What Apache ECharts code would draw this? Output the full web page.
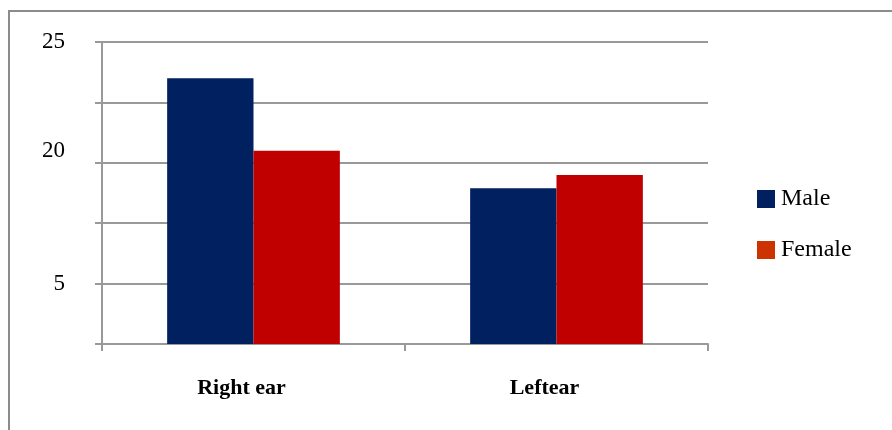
<!DOCTYPE html>
<html>
<head>
<meta charset="utf-8">
<script src="https://cdn.jsdelivr.net/npm/echarts@6/dist/echarts.min.js"></script>
<style>
  html, body { margin: 0; padding: 0; background: #fff; }
  #chart { width: 892px; height: 430px; }
</style>
</head>
<body>
<div id="chart"></div>
<script>
// Hearing results by ear and sex
const categories = ['Right ear', 'Leftear'];
const maleValues = [22.0, 12.9];
const femaleValues = [16.0, 14.0];
const yLabelValues = [5, 16.0, 25];
const yLabelTexts = ['5', '20', '25'];

const chart = echarts.init(document.getElementById('chart'), null, { renderer: 'canvas' });

const serif = '"Liberation Serif", "DejaVu Serif", serif';
const gridGray = '#999999';

chart.setOption({
  animation: false,
  backgroundColor: '#ffffff',
  graphic: [{
    type: 'rect',
    shape: { x: 9, y: 11, width: 1000, height: 500 },
    style: { fill: 'none', stroke: '#8c8c8c', lineWidth: 2 },
    silent: true
  }],
  grid: { left: 102, right: 184, top: 42, bottom: 86, containLabel: false },
  legend: {
    orient: 'vertical',
    left: 757,
    top: 187,
    padding: 0,
    itemWidth: 18,
    itemHeight: 18,
    itemGap: 27,
    icon: 'rect',
    textStyle: { fontFamily: serif, fontSize: 24, lineHeight: 24, color: '#000', padding: [0, 0, 0, 1] },
    data: [
      { name: 'Male', itemStyle: { color: '#002060' } },
      { name: 'Female', itemStyle: { color: '#cc3300' } }
    ]
  },
  xAxis: {
    type: 'category',
    data: categories,
    axisLine: { lineStyle: { color: gridGray, width: 2 } },
    axisTick: { show: true, alignWithLabel: false, length: 7, lineStyle: { color: gridGray, width: 2 } },
    axisLabel: {
      fontFamily: serif, fontSize: 22, fontWeight: 'bold', color: '#000',
      margin: 33, padding: [0, 24, 0, 0]
    }
  },
  yAxis: {
    type: 'value',
    min: 0,
    max: 25,
    interval: 5,
    axisLine: { show: true, lineStyle: { color: gridGray, width: 2 } },
    axisTick: { show: true, length: 7, lineStyle: { color: gridGray, width: 2 } },
    splitLine: { show: true, lineStyle: { color: gridGray, width: 2 } },
    axisLabel: {
      customValues: yLabelValues,
      fontFamily: serif,
      fontSize: 23,
      color: '#000',
      margin: 37,
      formatter: function (v) {
        let best = 0;
        for (let i = 1; i < yLabelValues.length; i++) {
          if (Math.abs(yLabelValues[i] - v) < Math.abs(yLabelValues[best] - v)) best = i;
        }
        return yLabelTexts[best];
      }
    }
  },
  series: [
    {
      name: 'Male',
      type: 'bar',
      data: maleValues,
      barGap: '0%',
      barCategoryGap: '43%',
      itemStyle: { color: '#002060' }
    },
    {
      name: 'Female',
      type: 'bar',
      data: femaleValues,
      barGap: '0%',
      barCategoryGap: '43%',
      itemStyle: { color: '#c00000' }
    }
  ]
});
</script>
</body>
</html>
